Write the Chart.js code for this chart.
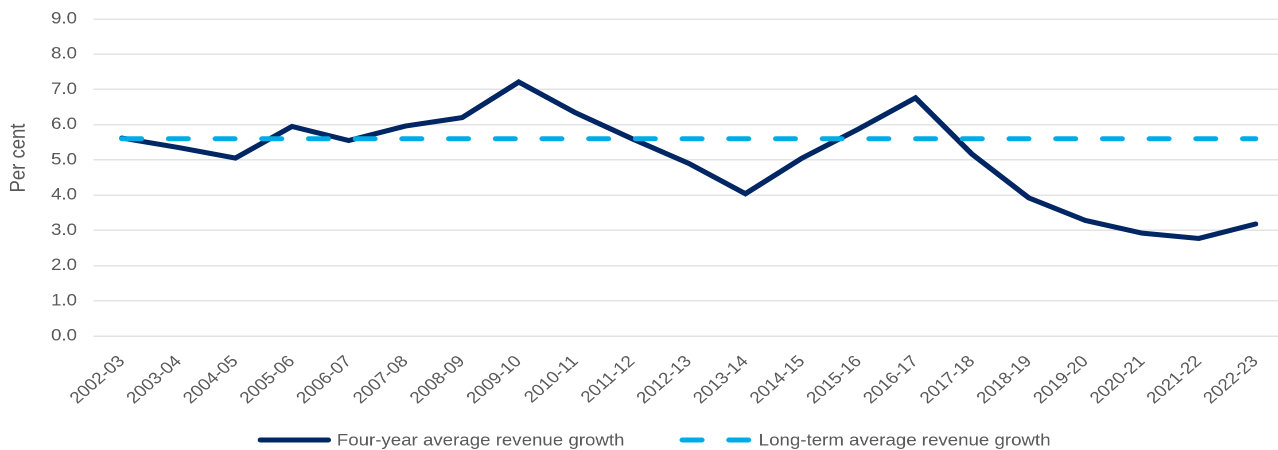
<!DOCTYPE html>
<html>
<head>
<meta charset="utf-8">
<script src="https://cdn.jsdelivr.net/npm/chart.js@4/dist/chart.umd.min.js"></script>
<style>
  html, body { margin: 0; padding: 0; background: #fff; overflow: hidden; }
  #outer { width: 1278px; height: 450px; overflow: hidden; position: relative; }
  #wrap { width: 1124px; height: 450px; position: absolute; left: 0; top: 0;
          transform: scaleX(1.1475); transform-origin: 0 0; }
</style>
</head>
<body>
<div id="outer"><div id="wrap"><canvas id="c"></canvas></div></div>
<script>
const categories = ['2002-03','2003-04','2004-05','2005-06','2006-07','2007-08','2008-09','2009-10','2010-11','2011-12','2012-13','2013-14','2014-15','2015-16','2016-17','2017-18','2018-19','2019-20','2020-21','2021-22','2022-23'];
const fourYearAverage = [5.62, 5.35, 5.05, 5.95, 5.55, 5.96, 6.2, 7.21, 6.34, 5.6, 4.9, 4.04, 5.05, 5.88, 6.76, 5.16, 3.92, 3.28, 2.92, 2.77, 3.18];
const longTermAverage = [5.6, 5.6, 5.6, 5.6, 5.6, 5.6, 5.6, 5.6, 5.6, 5.6, 5.6, 5.6, 5.6, 5.6, 5.6, 5.6, 5.6, 5.6, 5.6, 5.6, 5.6];
const seriesNames = ['Four-year average revenue growth', 'Long-term average revenue growth'];
const yTicks = [0, 1, 2, 3, 4, 5, 6, 7, 8, 9];
const yAxisTitle = 'Per cent';

const FONT = '"Liberation Sans", Arial, sans-serif';
const TEXT = '#595959';

const legendPlugin = {
  id: 'customLegend',
  afterDraw(chart) {
    const ctx = chart.ctx;
    const ds = chart.data.datasets;
    const lineW = 64, gapT = 5, gapItem = 48, fs = 16.3;
    ctx.save();
    ctx.font = fs + 'px ' + FONT;
    const widths = ds.map(d => ctx.measureText(d.label).width);
    let total = 0;
    widths.forEach((w, i) => { total += lineW + gapT + w + (i < widths.length - 1 ? gapItem : 0); });
    let x = 570 - total / 2;
    const y = 440;
    ds.forEach((d, i) => {
      ctx.beginPath();
      ctx.strokeStyle = d.borderColor;
      ctx.lineWidth = d.borderWidth;
      ctx.lineCap = 'round';
      ctx.setLineDash(d.borderDash || []);
      ctx.moveTo(x + 2.5, y);
      ctx.lineTo(x + lineW - 2.5, y);
      ctx.stroke();
      ctx.setLineDash([]);
      ctx.fillStyle = TEXT;
      ctx.textBaseline = 'middle';
      ctx.textAlign = 'left';
      ctx.fillText(d.label, x + lineW + gapT, y + 1);
      x += lineW + gapT + widths[i] + gapItem;
    });
    // y-axis title
    ctx.translate(16.2, 158);
    ctx.rotate(-Math.PI / 2);
    ctx.font = '18.5px ' + FONT;
    ctx.textAlign = 'center';
    ctx.textBaseline = 'middle';
    ctx.fillStyle = TEXT;
    ctx.fillText(yAxisTitle, 0, 0);
    ctx.restore();
  }
};

new Chart(document.getElementById('c'), {
  type: 'line',
  data: {
    labels: categories,
    datasets: [
      {
        label: seriesNames[0],
        data: fourYearAverage,
        borderColor: '#002664',
        backgroundColor: '#002664',
        borderWidth: 5,
        pointRadius: 0,
        tension: 0,
        borderJoinStyle: 'miter',
        borderCapStyle: 'round',
        order: 2
      },
      {
        label: seriesNames[1],
        data: longTermAverage,
        borderColor: '#00ABE6',
        backgroundColor: '#00ABE6',
        borderWidth: 5,
        borderDash: [16.8, 23.9],
        borderCapStyle: 'round',
        pointRadius: 0,
        tension: 0,
        order: 1
      }
    ]
  },
  options: {
    responsive: true,
    maintainAspectRatio: false,
    animation: false,
    devicePixelRatio: 2,
    layout: { padding: { left: 0, right: 1.6, top: 19, bottom: 0 } },
    plugins: {
      legend: { display: false },
      tooltip: { enabled: false }
    },
    scales: {
      x: {
        offset: true,
        grid: { display: false, drawTicks: false },
        border: { display: false },
        ticks: {
          color: TEXT,
          font: { family: FONT, size: 16.3 },
          minRotation: 45,
          maxRotation: 45,
          autoSkip: false,
          padding: 16
        },
        afterFit(axis) { axis.height = 114; }
      },
      y: {
        min: 0,
        max: 9,
        afterBuildTicks(axis) { axis.ticks = yTicks.map(v => ({ value: v })); },
        grid: { color: '#E3E3E3', lineWidth: 1.5, drawTicks: true, tickLength: 12, tickColor: 'rgba(0,0,0,0)' },
        border: { display: false },
        ticks: {
          color: TEXT,
          font: { family: FONT, size: 16.3 },
          padding: 2.5,
          callback: v => Number(v).toFixed(1)
        },
        title: { display: false },
        afterFit(axis) { axis.width = 81.6; }
      }
    }
  },
  plugins: [legendPlugin]
});
</script>
</body>
</html>
